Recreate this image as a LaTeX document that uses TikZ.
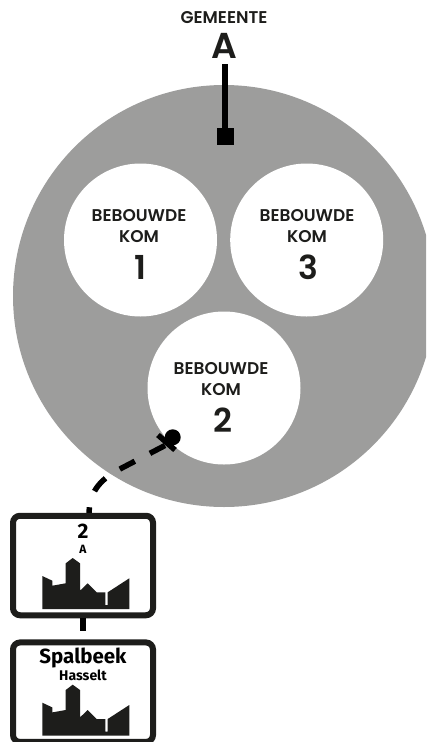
\documentclass[tikz,border=0pt]{standalone}
\usepackage{fontspec}
\setmainfont{Poppins}[BoldFont={Poppins SemiBold}]
\newfontfamily\bordfont{Fira Sans}
\definecolor{disk}{HTML}{9D9D9C}
\definecolor{ink}{HTML}{1D1D1B}
\tikzset{
  kom/.style={circle, fill=white, minimum size=153pt, inner sep=0pt},
  komlabel/.style={align=center, inner sep=0pt, font=\fontsize{17}{21}\selectfont\bfseries, text=ink},
  komnum/.style={inner sep=0pt, font=\fontsize{33}{33}\selectfont\bfseries, text=ink},
  bordje/.style={draw=ink, line width=6pt, rounded corners=7pt, fill=white,
    minimum width=140pt, minimum height=99.5pt, inner sep=0pt},
  skyline/.pic={
    \fill [ink] (-40.7,10.5) -- (-30.7,15.2) -- (-30.7,20.2) -- (-17.3,17.8) -- (-17.3,-2.2)
      -- (-10.3,-7.5) -- (-3,-2.2) -- (-3,25.2) -- (4.7,17.8) -- (13.7,26.8) -- (22.3,26.8)
      -- (22.3,39.5) -- (24.7,39.5) -- (24.7,26.8) -- (46.3,12.8) -- (46.3,43.5)
      -- (-40.7,43.5) -- cycle;
  },
}
\begin{document}
\begin{tikzpicture}[x=1pt, y=-1pt]
  \useasboundingbox (0,0) rectangle (426,742);

  \begin{scope}
    \clip (0,0) rectangle (426,742);
    \fill [disk] (224,296) circle (211);
  \end{scope}

  \node [kom] (kom1) at (140.5,240) {};
  \node [kom] (kom3) at (306.7,240) {};
  \node [kom] (kom2) at (224,388) {};

  % labels
  \node [inner sep=0pt, font=\fontsize{17}{17}\selectfont\bfseries, text=ink] (gemeente) at (224,17.5) {GEMEENTE};
  \node [inner sep=0pt, font=\fontsize{36}{36}\selectfont\bfseries, text=ink] (gemA) at (224.7,46) {A};

  \node [komlabel] (lab1) at (139,226.5) {BEBOUWDE\\KOM};
  \node [komnum] (num1) at (140,267) {1};
  \node [komlabel] (lab3) at (307,226.5) {BEBOUWDE\\KOM};
  \node [komnum] (num3) at (308,267) {3};
  \node [komlabel] (lab2) at (221,379.5) {BEBOUWDE\\KOM};
  \node [komnum] (num2) at (223,420) {2};

  % square end
  \node [fill=black, minimum size=17pt, inner sep=0pt] (blok) at (225.5,136.5) {};
  \coordinate (top) at (225.2,64);
  \draw [line width=6pt] (top) -- (top |- blok.center);

  % dashed link
  \coordinate (dot) at (172.7,437.3);
  \coordinate (tickA) at (158,435);
  \coordinate (tickB) at (175,450);
  \coordinate (bocht) at (118,470);
  \coordinate (end) at (89,515);
  \fill [black] (dot) circle (8);
  \draw [line width=5.5pt] (tickA) -- (tickB);
  \draw [line width=5.5pt, dash pattern=on 17pt off 17pt] (165,445.5) -- (bocht) .. controls (100,480) and (89,492) .. (end);

  % signs
  \node [bordje] (bordA) at (83,565.5) {};
  \node [bordje] (bordB) at (83,692.2) {};
  \coordinate (paal) at (83,631);
  \draw [line width=5.7pt] (bordA.south) -- (paal);

  \node [inner sep=0pt, font=\bordfont\fontsize{21}{21}\selectfont\bfseries, text=black] (nr) at (83,531) {2};
  \node [inner sep=0pt, font=\bordfont\fontsize{12}{12}\selectfont\bfseries, text=black] (sub) at (83,549) {A};
  \node [inner sep=0pt, font=\bordfont\fontsize{20.5}{20.5}\selectfont\bfseries, text=black] (naam) at (83,658) {Spalbeek};
  \node [inner sep=0pt, font=\bordfont\fontsize{14}{14}\selectfont\bfseries, text=black] (stad) at (83,675) {Hasselt};
  \pic at (83,565.5) {skyline};
  \pic at (83,692.2) {skyline};
\end{tikzpicture}
\end{document}
